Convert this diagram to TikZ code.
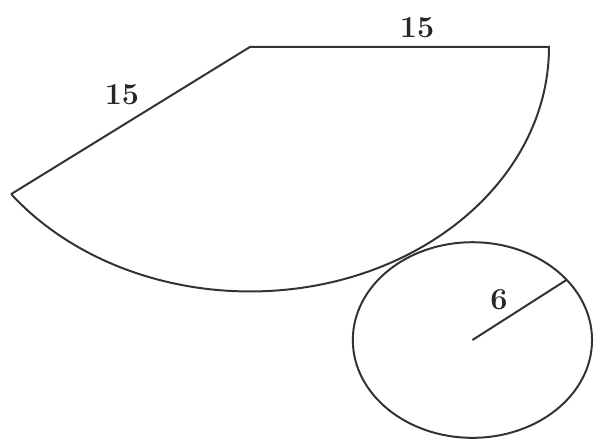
\documentclass[tikz,border=0pt]{standalone}
\usepackage{tikz}
\usepackage{xcolor}
\usetikzlibrary{positioning,calc}

\begin{document}
\begin{tikzpicture}[
  x=0.598cm, y=0.489cm,
  edge/.style={draw=black!80, line width=1.7pt},
  lbl/.style={font=\fontsize{26}{30}\selectfont\bfseries, text=black!85, inner sep=0pt}
]
\useasboundingbox (-12.54,-24.05) rectangle (17.61,2.88);
\coordinate (apex) at (0,0);
\coordinate (rEnd) at (15,0);
\coordinate (lEnd) at (217:15);
\coordinate (ctr) at (11.16,-17.98);
\coordinate (rad) at ($(ctr)+(38:6)$);
\draw[edge] (lEnd) -- (apex) -- (rEnd) arc[start angle=0, end angle=-143, radius=15];
\draw[edge] (ctr) circle[radius=6];
\draw[edge] (ctr) -- (rad);
\node[lbl] (topLbl) at (8.38,1.17) {15};
\node[lbl] (leftLbl) at (-6.42,-2.94) {15};
\node[lbl] (radLbl) at (12.49,-15.52) {6};
\end{tikzpicture}
\end{document}
